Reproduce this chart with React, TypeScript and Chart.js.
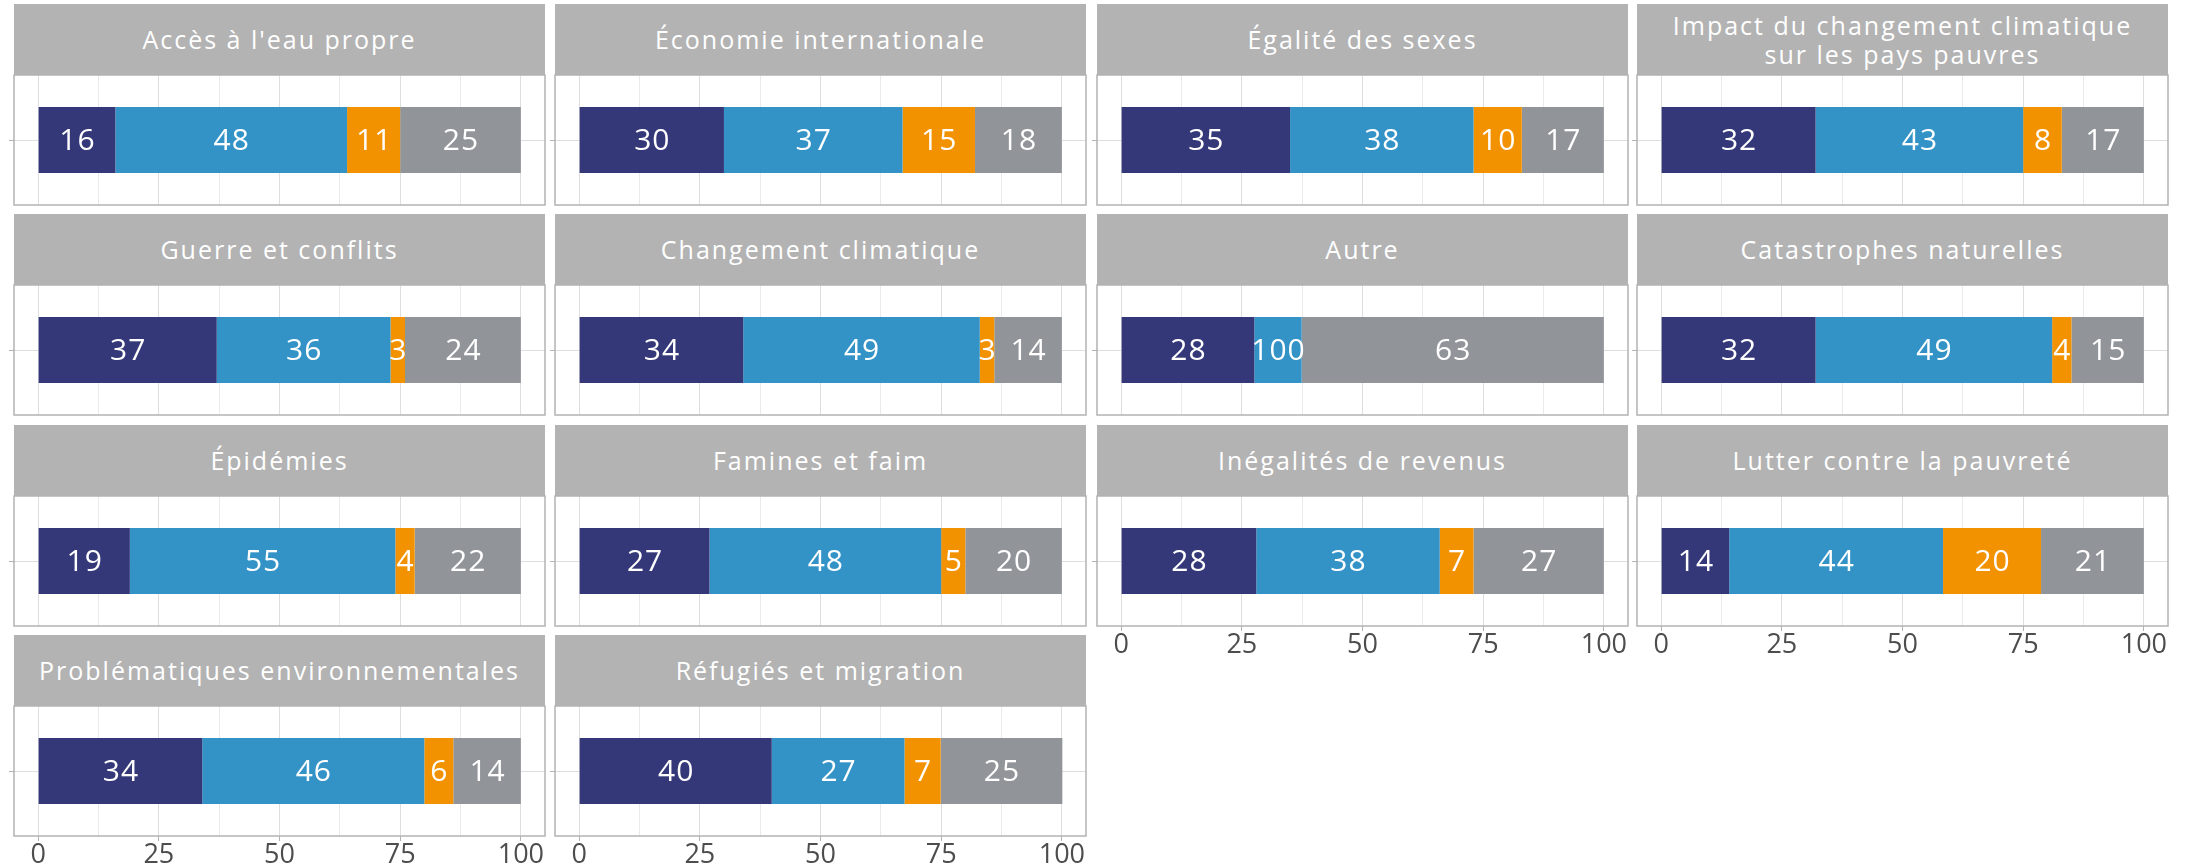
import React, { useEffect, useRef } from "react";
import { Chart, registerables } from "chart.js";

Chart.register(...registerables);

// ---------- DATA ----------
const panelTitles = [
  "Accès à l'eau propre",
  "Économie internationale",
  "Égalité des sexes",
  "Impact du changement climatique\nsur les pays pauvres",
  "Guerre et conflits",
  "Changement climatique",
  "Autre",
  "Catastrophes naturelles",
  "Épidémies",
  "Famines et faim",
  "Inégalités de revenus",
  "Lutter contre la pauvreté",
  "Problématiques environnementales",
  "Réfugiés et migration",
];

const seriesNames = ["Série 1", "Série 2", "Série 3", "Série 4"];
const seriesColors = ["#343878", "#3393C7", "#F39200", "#919599"];

// bar segment widths (share of the bar)
const series1Values = [16, 30, 35, 32, 37, 34, 27.6, 32, 19, 27, 28, 14.1, 34, 39.9];
const series2Values = [48, 37, 38, 43, 36, 49, 9.8, 49, 55, 48, 38, 44.3, 46, 27.5];
const series3Values = [11, 15, 10, 8, 3, 3, 0, 4, 4, 5, 7, 20.3, 6, 7.5];
const series4Values = [25, 18, 17, 17, 24, 14, 62.6, 15, 22, 20, 27, 21.3, 14, 25.2];

// printed labels on each segment
const series1Labels = ["16", "30", "35", "32", "37", "34", "28", "32", "19", "27", "28", "14", "34", "40"];
const series2Labels = ["48", "37", "38", "43", "36", "49", "100", "49", "55", "48", "38", "44", "46", "27"];
const series3Labels = ["11", "15", "10", "8", "3", "3", "", "4", "4", "5", "7", "20", "6", "7"];
const series4Labels = ["25", "18", "17", "17", "24", "14", "63", "15", "22", "20", "27", "21", "14", "25"];

const xTickValues = [0, 12.5, 25, 37.5, 50, 62.5, 75, 87.5, 100];
const xTickLabels = ["0", "", "25", "", "50", "", "75", "", "100"];

const allValues = [series1Values, series2Values, series3Values, series4Values];
const allLabels = [series1Labels, series2Labels, series3Labels, series4Labels];

// ---------- LAYOUT / STYLE ----------
const FONT = "'Open Sans', sans-serif";
const COLS = 4;
const COL_LEFT = [14, 555, 1097, 1637];
const ROW_TOP = [4, 214, 425, 635];
const PANEL_W = 531;
const STRIP_H = 71;
const PANEL_H = 130;
const Y_AXIS_W = 10;
const X_AXIS_H = 45;
const PAD = 2;

function Panel({ index }: { index: number }) {
  const ref = useRef<HTMLCanvasElement>(null);
  const row = Math.floor(index / COLS);
  const col = index % COLS;
  const showX = index + COLS >= panelTitles.length;
  const canvasW = Y_AXIS_W + PANEL_W + PAD;
  const canvasH = PAD + PANEL_H + (showX ? X_AXIS_H : PAD);

  useEffect(() => {
    if (!ref.current) return;
    const segmentLabels = {
      id: "segmentLabels",
      afterDatasetsDraw(chart: any) {
        const ctx = chart.ctx;
        chart.data.datasets.forEach((_ds: any, di: number) => {
          const meta = chart.getDatasetMeta(di);
          meta.data.forEach((bar: any) => {
            const text = allLabels[di][index];
            if (!text) return;
            const p = bar.getProps(["x", "y", "base"], true);
            ctx.save();
            ctx.fillStyle = "#ffffff";
            ctx.font = `400 30px ${FONT}`;
            try {
              (ctx as any).letterSpacing = "1px";
            } catch (e) {}
            ctx.textAlign = "center";
            ctx.textBaseline = "middle";
            ctx.fillText(text, (p.x + p.base) / 2 + 0.5, p.y + 1);
            ctx.restore();
          });
        });
      },
    };
    const panelBorder = {
      id: "panelBorder",
      afterDraw(chart: any) {
        const { left, top, right, bottom } = chart.chartArea;
        const ctx = chart.ctx;
        ctx.save();
        ctx.strokeStyle = "#B3B3B3";
        ctx.lineWidth = 1.5;
        ctx.strokeRect(left, top, right - left, bottom - top);
        ctx.restore();
      },
    };
    const chart = new Chart(ref.current, {
      type: "bar",
      data: {
        labels: [panelTitles[index]],
        datasets: seriesNames.map((name, k) => ({
          label: name,
          data: [allValues[k][index]],
          backgroundColor: seriesColors[k],
          borderWidth: 0,
          categoryPercentage: 1,
          barPercentage: 0.507,
        })),
      },
      options: {
        indexAxis: "y",
        responsive: false,
        animation: false,
        devicePixelRatio: 1,
        layout: { padding: { top: PAD, right: PAD, bottom: showX ? 0 : PAD, left: 0 } },
        plugins: {
          legend: { display: false },
          tooltip: { enabled: false },
          title: { display: false },
        },
        scales: {
          x: {
            stacked: true,
            min: -5,
            max: 105,
            afterBuildTicks: (s: any) => {
              s.ticks = xTickValues.map((v) => ({ value: v }));
            },
            afterFit: (s: any) => {
              s.height = showX ? X_AXIS_H : 0;
            },
            border: { display: false },
            grid: {
              color: (c: any) => (xTickLabels[c.index] ? "#DEDEDE" : "#EAEAEA"),
              lineWidth: 1,
              drawTicks: showX,
              tickLength: 5,
              tickColor: (c: any) => (xTickLabels[c.index] ? "#B3B3B3" : "rgba(0,0,0,0)"),
            },
            ticks: {
              display: showX,
              autoSkip: false,
              maxRotation: 0,
              padding: 1,
              color: "#4D4D4D",
              font: { family: FONT, size: 27, lineHeight: 1 },
              callback: (_v: any, i: number) => xTickLabels[i],
            },
          },
          y: {
            stacked: true,
            afterFit: (s: any) => {
              s.width = Y_AXIS_W;
            },
            border: { display: false },
            grid: {
              offset: false,
              color: "#DEDEDE",
              lineWidth: 1,
              drawTicks: true,
              tickLength: 5,
              tickColor: "#B3B3B3",
            },
            ticks: { display: false },
          },
        },
      },
      plugins: [segmentLabels, panelBorder],
    } as any);
    return () => chart.destroy();
  }, [index]);

  const left = COL_LEFT[col];
  const top = ROW_TOP[row];
  return (
    <>
      <div
        style={{
          position: "absolute",
          left,
          top,
          width: PANEL_W,
          height: STRIP_H,
          background: "#B3B3B3",
          color: "#FFFFFF",
          display: "flex",
          alignItems: "center",
          justifyContent: "center",
          textAlign: "center",
          fontFamily: FONT,
          fontSize: 25,
          letterSpacing: "2px",
          lineHeight: "29px",
          whiteSpace: "pre-line",
        }}
      >
        {panelTitles[index]}
      </div>
      <canvas
        ref={ref}
        width={canvasW}
        height={canvasH}
        style={{
          position: "absolute",
          left: left - Y_AXIS_W,
          top: top + STRIP_H - PAD,
          width: canvasW,
          height: canvasH,
        }}
      />
    </>
  );
}

export default function App() {
  return (
    <div
      style={{
        position: "absolute",
        left: 0,
        top: 0,
        width: 2191,
        height: 867,
        background: "#FFFFFF",
        overflow: "hidden",
      }}
    >
      {panelTitles.map((_t, i) => (
        <Panel key={i} index={i} />
      ))}
    </div>
  );
}
